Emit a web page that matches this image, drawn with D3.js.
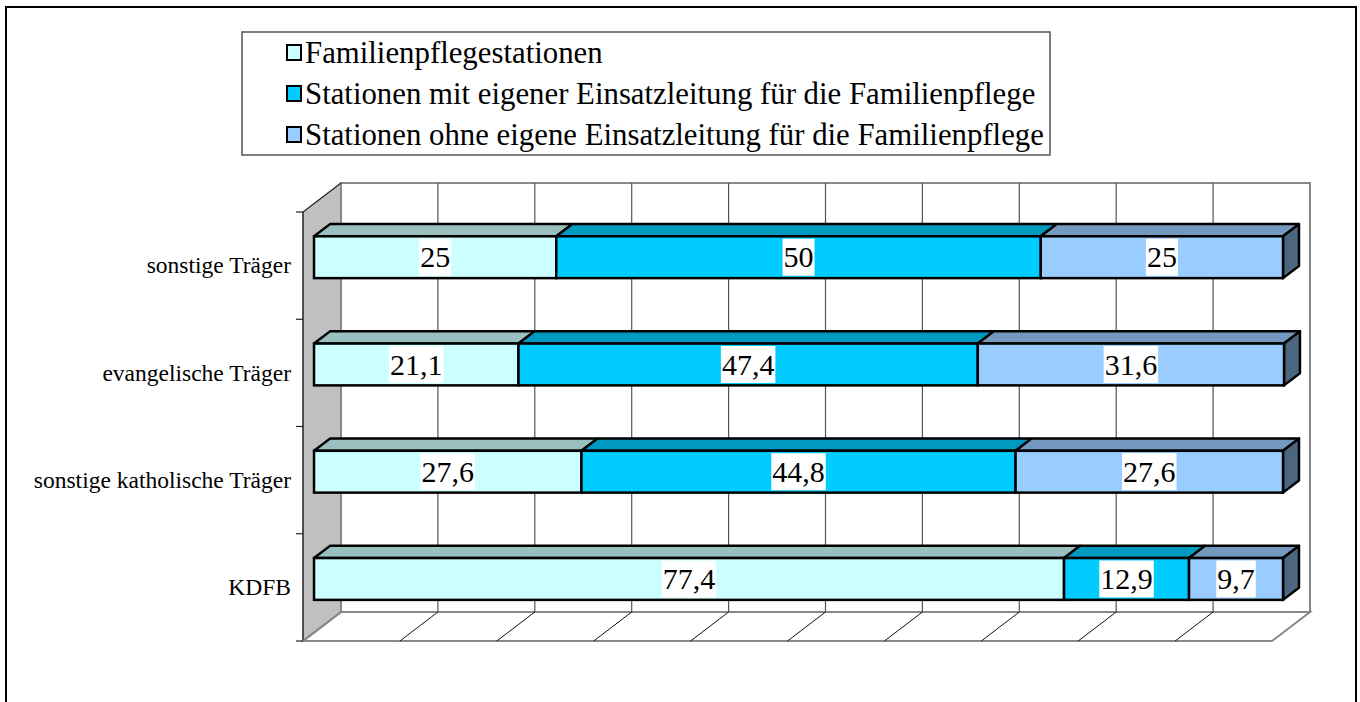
<!DOCTYPE html>
<html>
<head>
<meta charset="utf-8">
<script src="https://cdn.jsdelivr.net/npm/d3@7"></script>
<style>
  body { margin: 0; background: #fff; }
</style>
</head>
<body>
<div id="chart"></div>
<script>
const categories = ["sonstige Träger", "evangelische Träger", "sonstige katholische Träger", "KDFB"];
const seriesNames = [
  "Familienpflegestationen",
  "Stationen mit eigener Einsatzleitung für die Familienpflege",
  "Stationen ohne eigene Einsatzleitung für die Familienpflege",
];
const familienpflegestationen = [25, 21.1, 27.6, 77.4];
const mitEinsatzleitung = [50, 47.4, 44.8, 12.9];
const ohneEinsatzleitung = [25, 31.6, 27.6, 9.7];

const frontColors = ["#CCFFFF", "#00CCFF", "#99CCFF"];
const topColors = ["#99BFBF", "#0099BF", "#7399BF"];
const sideColors = ["#668080", "#006680", "#4C6680"];

const serif = '"Liberation Serif", "Times New Roman", serif';

const rows = categories.map((c, i) => ({
  cat: c,
  s0: familienpflegestationen[i],
  s1: mitEinsatzleitung[i],
  s2: ohneEinsatzleitung[i],
}));

const width = 1360;
const height = 702;

// 3d depth of the plot box
const depthX = 38;
const depthY = -29;
const barZ0 = 0.29;
const barZ1 = 0.71;

const svg = d3
  .select("#chart")
  .append("svg")
  .attr("width", width)
  .attr("height", height);

// outer frame
svg
  .append("rect")
  .attr("x", 6)
  .attr("y", 7)
  .attr("width", 1350)
  .attr("height", 720)
  .attr("fill", "none")
  .attr("stroke", "#000")
  .attr("stroke-width", 2);

const xScale = d3.scaleLinear().domain([0, 100]).range([303, 1272]);
const yScale = d3.scaleBand().domain(categories).range([212, 641]);

const plotTop = yScale.range()[0];
const plotBottom = yScale.range()[1];
const x0 = xScale(0);
const x1 = xScale(100);

// left wall
svg
  .append("path")
  .attr(
    "d",
    `M${x0},${plotTop} L${x0 + depthX},${plotTop + depthY} L${x0 + depthX},${plotBottom + depthY} L${x0},${plotBottom} Z`
  )
  .attr("fill", "#C0C0C0")
  .attr("stroke", "none");

// floor
svg
  .append("path")
  .attr(
    "d",
    `M${x0},${plotBottom} L${x0 + depthX},${plotBottom + depthY} L${x1 + depthX},${plotBottom + depthY} L${x1},${plotBottom} Z`
  )
  .attr("fill", "#fff")
  .attr("stroke", "#888")
  .attr("stroke-width", 2);

// back wall
svg
  .append("rect")
  .attr("x", x0 + depthX)
  .attr("y", plotTop + depthY)
  .attr("width", x1 - x0)
  .attr("height", plotBottom - plotTop)
  .attr("fill", "#fff")
  .attr("stroke", "#888")
  .attr("stroke-width", 2);

const ticks = xScale.ticks(10);

// grid lines on back wall
svg
  .selectAll("line.grid")
  .data(ticks.filter((t) => t > 0 && t < 100))
  .enter()
  .append("line")
  .attr("class", "grid")
  .attr("x1", (d) => xScale(d) + depthX)
  .attr("x2", (d) => xScale(d) + depthX)
  .attr("y1", plotTop + depthY)
  .attr("y2", plotBottom + depthY)
  .attr("stroke", "#555")
  .attr("stroke-width", 1.2);

// floor lines
svg
  .selectAll("line.floor")
  .data(ticks.filter((t) => t > 0 && t < 100))
  .enter()
  .append("line")
  .attr("class", "floor")
  .attr("x1", (d) => xScale(d))
  .attr("x2", (d) => xScale(d) + depthX)
  .attr("y1", plotBottom)
  .attr("y2", plotBottom + depthY)
  .attr("stroke", "#111")
  .attr("stroke-width", 1);

// left wall edges
svg
  .append("line")
  .attr("x1", x0)
  .attr("x2", x0)
  .attr("y1", plotTop)
  .attr("y2", plotBottom)
  .attr("stroke", "#222")
  .attr("stroke-width", 1.5);
svg
  .append("line")
  .attr("x1", x0)
  .attr("x2", x0 + depthX)
  .attr("y1", plotTop)
  .attr("y2", plotTop + depthY)
  .attr("stroke", "#222")
  .attr("stroke-width", 1.2);
svg
  .append("line")
  .attr("x1", x0)
  .attr("x2", x0 + depthX)
  .attr("y1", plotBottom)
  .attr("y2", plotBottom + depthY)
  .attr("stroke", "#888")
  .attr("stroke-width", 2);

// category ticks
const tickYs = categories.map((c) => yScale(c)).concat([plotBottom]);
svg
  .selectAll("line.ytick")
  .data(tickYs)
  .enter()
  .append("line")
  .attr("class", "ytick")
  .attr("x1", x0 - 7)
  .attr("x2", x0)
  .attr("y1", (d) => d)
  .attr("y2", (d) => d)
  .attr("stroke", "#222")
  .attr("stroke-width", 1.2);

// category labels
svg
  .selectAll("text.cat")
  .data(categories)
  .enter()
  .append("text")
  .attr("class", "cat")
  .attr("x", 291)
  .attr("y", (d) => yScale(d) + yScale.bandwidth() / 2)
  .attr("dy", "0.33em")
  .attr("text-anchor", "end")
  .attr("font-size", 23.5)
  .attr("fill", "#000")
  .style("font-family", serif)
  .text((d) => d);

// bars
const stack = d3.stack().keys(["s0", "s1", "s2"]);
const series = stack(rows);

const barH = yScale.bandwidth() * 0.39;
const fx = barZ0 * depthX;
const fy = barZ0 * depthY;
const bx = (barZ1 - barZ0) * depthX;
const by = (barZ1 - barZ0) * depthY;

const segs = [];
series.forEach((s, si) => {
  s.forEach((d) => {
    const cy = yScale(d.data.cat) + yScale.bandwidth() / 2 + fy;
    segs.push({
      si,
      value: d[1] - d[0],
      left: xScale(d[0]) + fx,
      right: xScale(d[1]) + fx,
      top: cy - barH / 2,
      bottom: cy + barH / 2,
      last: si === series.length - 1,
    });
  });
});

const barG = svg.append("g");

segs.forEach((s) => {
  barG
    .append("path")
    .attr(
      "d",
      `M${s.left},${s.top} L${s.left + bx},${s.top + by} L${s.right + bx},${s.top + by} L${s.right},${s.top} Z`
    )
    .attr("fill", topColors[s.si])
    .attr("stroke", "#000")
    .attr("stroke-width", 2.5)
    .attr("stroke-linejoin", "round");
  if (s.last) {
    barG
      .append("path")
      .attr(
        "d",
        `M${s.right},${s.top} L${s.right + bx},${s.top + by} L${s.right + bx},${s.bottom + by} L${s.right},${s.bottom} Z`
      )
      .attr("fill", sideColors[s.si])
      .attr("stroke", "#000")
      .attr("stroke-width", 2.5)
      .attr("stroke-linejoin", "round");
  }
  barG
    .append("rect")
    .attr("x", s.left)
    .attr("y", s.top)
    .attr("width", s.right - s.left)
    .attr("height", s.bottom - s.top)
    .attr("fill", frontColors[s.si])
    .attr("stroke", "#000")
    .attr("stroke-width", 2.5);
});

// value labels with white box
const labelG = svg.append("g");
segs.forEach((s) => {
  const cx = (s.left + s.right) / 2;
  const cy = (s.top + s.bottom) / 2;
  const box = labelG.append("rect").attr("fill", "#fff");
  const t = labelG
    .append("text")
    .attr("x", cx)
    .attr("y", cy)
    .attr("dy", "0.34em")
    .attr("text-anchor", "middle")
    .attr("font-size", 30)
    .attr("fill", "#000")
    .style("font-family", serif)
    .text(String(s.value.toFixed(1)).replace(/\.0$/, "").replace(".", ","));
  const w = t.node().getComputedTextLength();
  box
    .attr("x", cx - w / 2 - 1)
    .attr("y", cy - 18.5)
    .attr("width", w + 2)
    .attr("height", 37);
});

// legend
const legend = svg.append("g");
legend
  .append("rect")
  .attr("x", 242)
  .attr("y", 32)
  .attr("width", 808)
  .attr("height", 123)
  .attr("fill", "#fff")
  .attr("stroke", "#555")
  .attr("stroke-width", 1.5);

seriesNames.forEach((name, i) => {
  const cy = 52 + i * 41;
  legend
    .append("rect")
    .attr("x", 287)
    .attr("y", cy - 7)
    .attr("width", 14)
    .attr("height", 15)
    .attr("fill", frontColors[i])
    .attr("stroke", "#000")
    .attr("stroke-width", 2);
  legend
    .append("text")
    .attr("x", 305)
    .attr("y", cy)
    .attr("dy", "0.35em")
    .attr("font-size", 30.8)
    .attr("fill", "#000")
    .style("font-family", serif)
    .text(name);
});
</script>
</body>
</html>
